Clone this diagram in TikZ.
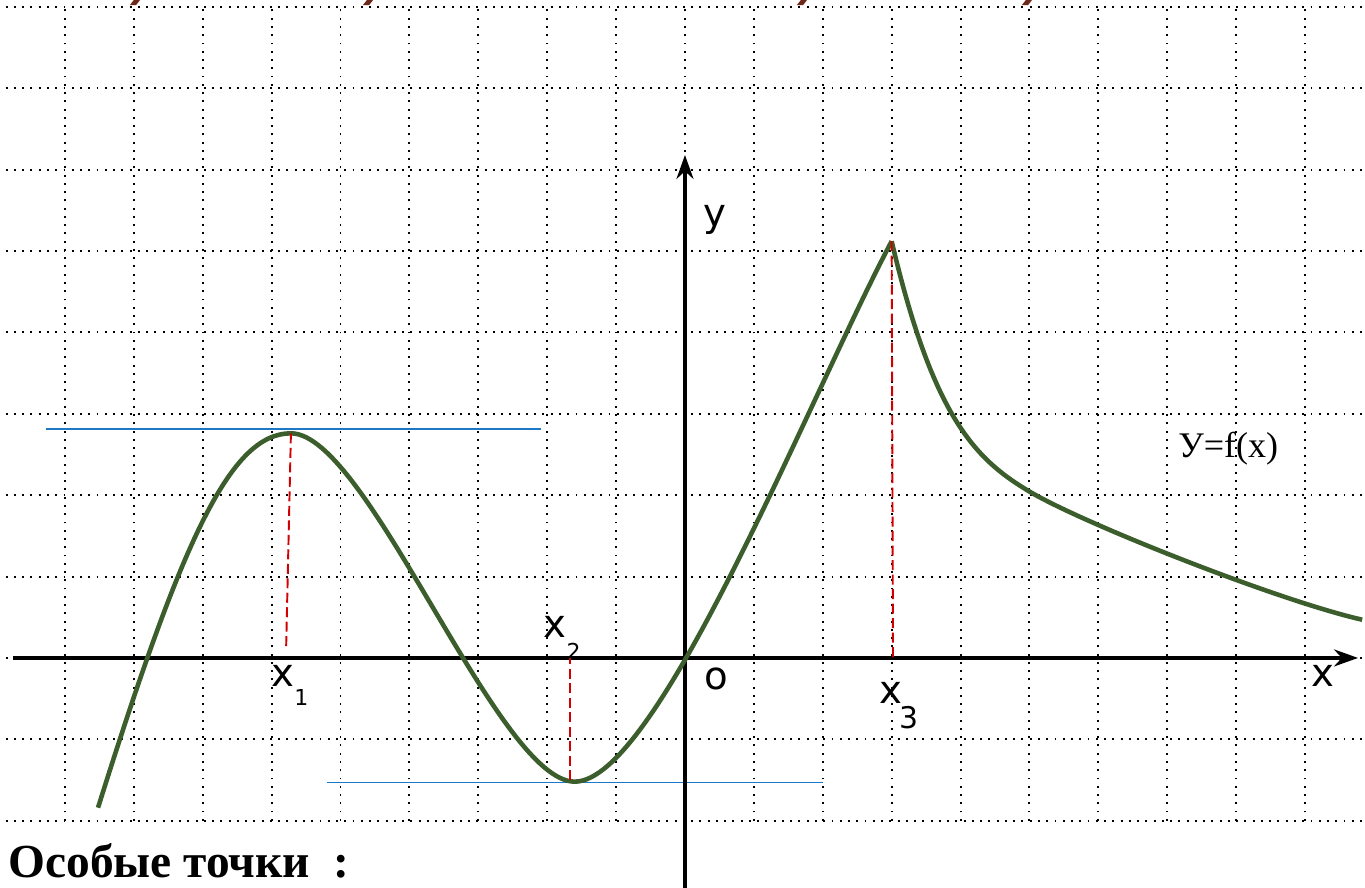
\documentclass[tikz,border=0pt]{standalone}
\usepackage{fontspec}
\setmainfont{Liberation Serif}
\newfontfamily\axisfont{DejaVu Sans}
\usetikzlibrary{arrows.meta}
\definecolor{curvegreen}{RGB}{60,94,44}
\definecolor{tanblue}{RGB}{30,120,200}
\definecolor{dashred}{RGB}{210,0,0}
\definecolor{titlered}{RGB}{110,40,25}

\begin{document}
\begin{tikzpicture}[x=1.378cm,y=1.628cm,
  gridline/.style={line width=1.1pt,dash pattern=on 1.1pt off 3.6pt},
  axis/.style={line width=1.9pt,-{Stealth[length=0.48cm,width=0.34cm]}},
  graph/.style={curvegreen,line width=2.6pt,line join=round},
  tangent/.style={tanblue,line width=1.1pt},
  drop/.style={dashred,line width=1.1pt,dash pattern=on 0.2cm off 0.09cm},
  lbl/.style={font=\axisfont\fontsize{22}{22}\selectfont,inner sep=0pt},
  sub/.style={font=\axisfont\fontsize{12.5}{12.5}\selectfont,inner sep=0pt}]
  \useasboundingbox (-9.943,-2.826) rectangle (9.871,8.084);
  % grid
  \foreach \y in {-2,...,8} \draw[gridline] (-9.86,\y) -- (9.87,\y);
  \foreach \x in {-9,...,9} \draw[gridline] (\x,-2) -- (\x,8);
  % what is left of the title
  \foreach \t in {-7.984,-4.601,1.698,4.964}
    \fill[titlered] (\t-0.075,8.02) -- ++(0.09,0) -- ++(0.065,0.07) -- ++(-0.09,0) -- cycle;
  % labels under the axes
  \node[lbl] (lx1) at (-5.835,-0.227) {x};
  \node[sub] (sx1) at (-5.57,-0.49) {1};
  \node[lbl] (lx2) at (-1.887,0.375) {x};
  \node[sub] (sx2) at (-1.618,0.086) {2};
  \node[lbl] (lx3) at (2.99,-0.424) {x};
  \node[sub,font=\axisfont\fontsize{17}{17}\selectfont] (sx3) at (3.25,-0.731) {3};
  \node[lbl] (lo) at (0.457,-0.252) {o};
  \node[lbl] (lx) at (9.26,-0.22) {x};
  \node[lbl] (ly) at (0.435,5.387) {y};
  \node[font=\fontsize{20.5}{20.5}\selectfont,inner sep=0pt,anchor=base west] (fx) at (7.156,2.457) {У=f(x)};
  \node[font=\bfseries\fontsize{27}{27}\selectfont,inner sep=0pt,anchor=base west] (title) at (-9.827,-2.703) {Особые точки~~:};
  % tangents
  \draw[tangent] (-9.28,2.81) -- (-2.09,2.81);
  \draw[tangent] (-5.20,-1.53) -- (2.01,-1.53);
  % axes
  \coordinate (xl) at (-9.76,0);
  \coordinate (xr) at (9.77,0);
  \coordinate (yb) at (0,-2.83);
  \coordinate (yt) at (0,6.18);
  \draw[axis] (xl) -- (xr);
  \draw[axis] (yb) -- (yt);
  % y=f(x)
  \coordinate (m1) at (-5.72,2.76);
  \coordinate (m2) at (-1.6,-1.52);
  \coordinate (m3) at (3.0,5.12);
  \coordinate (tail) at (5.01,2.04);
  \draw[graph] (-8.52,-1.84) .. controls (-7.3,1.45) and (-6.6,2.76) .. (m1)
    .. controls (-4.6,2.76) and (-2.72,-1.52) .. (m2)
    .. controls (-0.4,-1.52) and (1.8,3.2) .. (m3);
  \draw[graph] (m3) .. controls (3.6,2.96) and (4.21,2.44) .. (tail)
    .. controls (5.8,1.645) and (8.63,0.70) .. (9.83,0.47);
  % drops to the axis
  \draw[drop] (m1) -- (-5.79,0.1);
  \draw[drop] (-1.67,-1.5) -- (-1.67,0);
  \draw[drop] (m3) -- (3.02,-0.03);
\end{tikzpicture}
\end{document}
